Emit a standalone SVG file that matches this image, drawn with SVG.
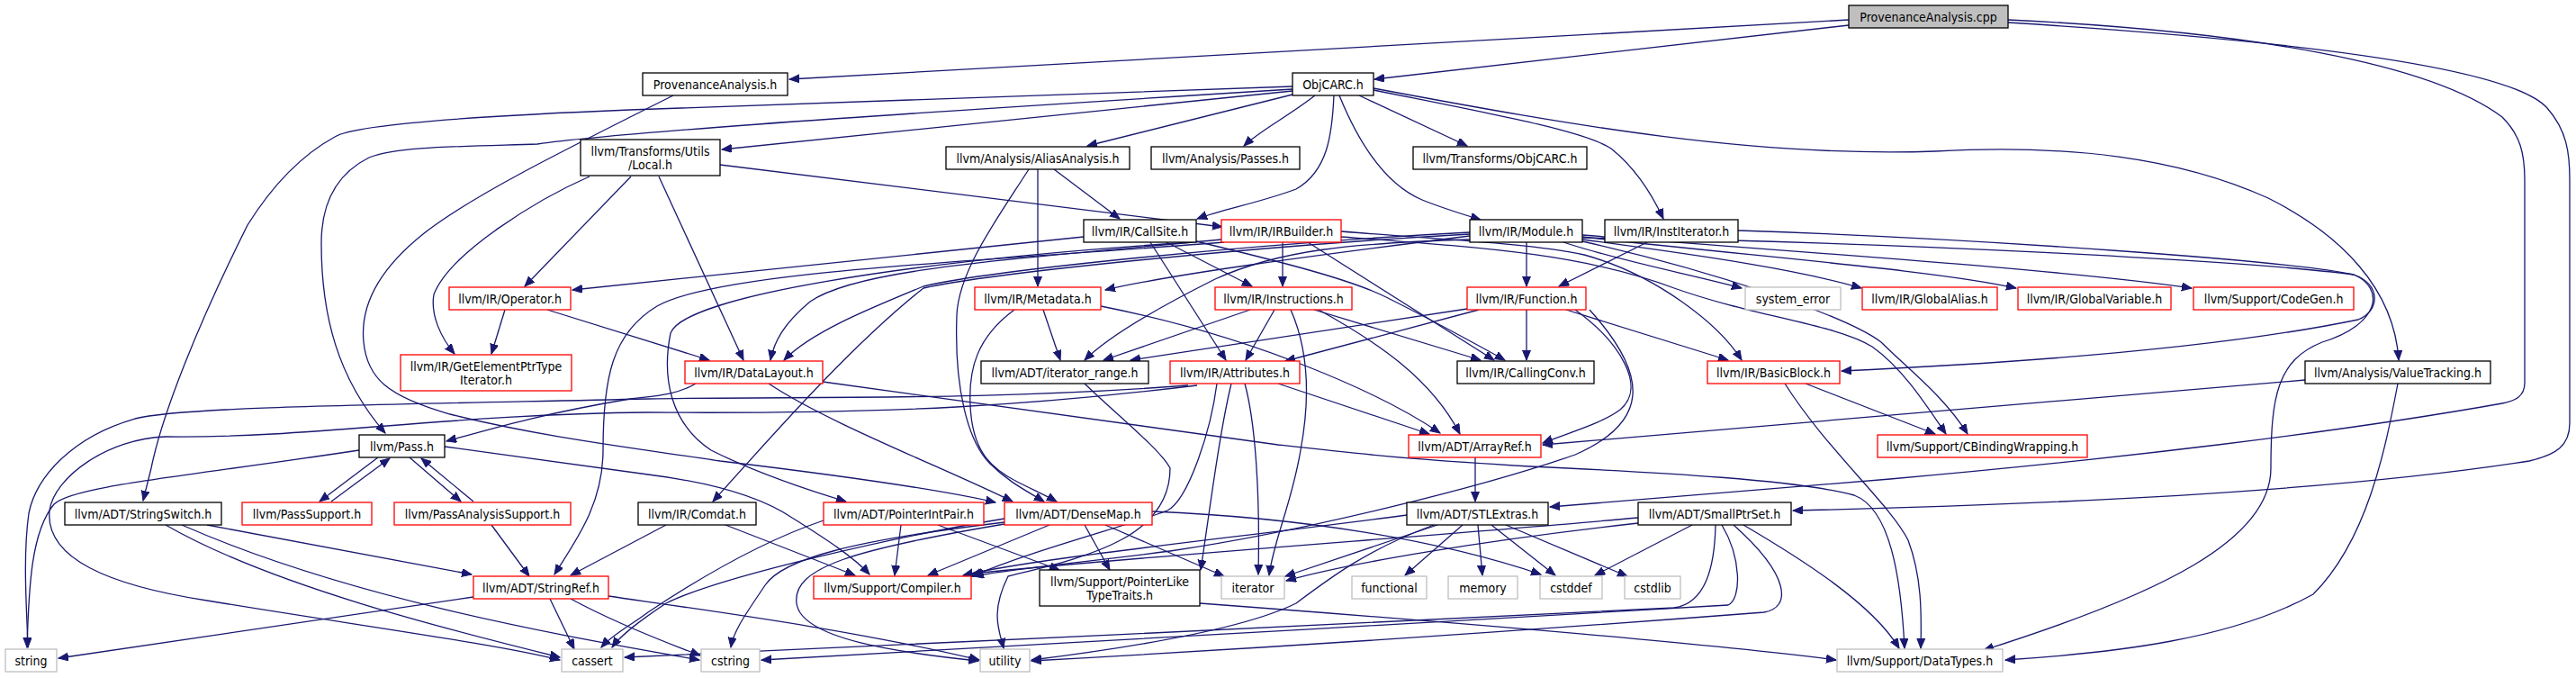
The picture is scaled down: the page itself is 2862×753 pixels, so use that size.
<svg xmlns="http://www.w3.org/2000/svg" width="2862" height="753" viewBox="0 0 2862 753">
<style>
rect{fill:#fff;stroke-width:1.3}
.n rect{stroke:#000}
.r rect{stroke:#f00}
.g rect{stroke:#bfbfbf}
.root rect{fill:#bfbfbf;stroke:#000}
text{font-family:"DejaVu Sans Condensed","DejaVu Sans",sans-serif;font-size:14px;text-anchor:middle;fill:#000}
#edges path{fill:none;stroke:#191970;stroke-width:1.3;marker-end:url(#a)}
</style>
<defs>
<marker id="a" markerWidth="12" markerHeight="10" refX="11" refY="4.5" orient="auto" markerUnits="userSpaceOnUse"><path d="M0,0 L11,4.5 L0,9 z" fill="#191970" stroke="#191970" stroke-width="1"/></marker>
</defs>
<rect x="0" y="0" width="2862" height="753" style="fill:#fff;stroke:none"/>
<g id="edges">
<path d="M2054,22 L877,88"/>
<path d="M2054,28 L1527,88"/>
<path d="M2231,22 C2500,35 2700,70 2780,130 C2800,150 2805,170 2805,200 L2805,425 C2805,440 2795,445 2780,448 C2600,480 2350,510 2100,532 L1722,563"/>
<path d="M2231,25 C2550,45 2790,75 2830,120 C2852,145 2855,170 2855,200 L2855,470 C2855,495 2840,505 2810,512 C2600,545 2300,560 1992,567"/>
<path d="M1436,96 L700,122 C500,130 390,140 372,152 C330,175 300,210 275,250 C220,360 180,460 168,520 L159,556"/>
<path d="M1436,99 C1100,120 700,145 597,160 C500,163 441,163 410,175 C370,195 357,230 357,270 C357,350 375,420 428,481"/>
<path d="M1436,101 L802,166"/>
<path d="M1436,105 L1208,162"/>
<path d="M1461,106 C1430,130 1400,145 1382,162"/>
<path d="M1482,106 C1480,150 1475,190 1440,210 C1400,225 1360,232 1330,243"/>
<path d="M1488,106 C1510,160 1540,205 1580,222 C1605,232 1625,238 1645,244"/>
<path d="M1510,106 L1630,162"/>
<path d="M1526,100 C1650,125 1760,145 1790,165 C1815,185 1835,215 1848,243"/>
<path d="M1526,98 C1750,140 1950,175 2150,168 C2300,160 2420,175 2520,220 C2600,260 2660,320 2665,400"/>
<path d="M748,106 C620,170 520,220 470,260 C420,300 400,340 404,380 C408,420 430,440 500,460 C600,485 700,497 800,512 C950,530 1050,545 1106,558"/>
<path d="M800,183 L1358,252"/>
<path d="M701,196 L583,318"/>
<path d="M655,196 C600,220 500,280 482,327 C478,350 490,375 505,393"/>
<path d="M732,196 L826,400"/>
<path d="M1171,188 L1244,243"/>
<path d="M1153,188 L1153,318"/>
<path d="M1143,188 C1110,240 1065,300 1063,350 C1060,430 1075,490 1100,515 C1120,535 1140,545 1160,557"/>
<path d="M1204,263 L636,322"/>
<path d="M1325,269 C1000,290 760,330 745,370 C735,420 745,470 790,500 C840,525 900,545 940,557"/>
<path d="M1296,269 L1391,318"/>
<path d="M1278,269 L1362,400"/>
<path d="M1329,268 C1420,290 1500,310 1540,330 C1600,360 1645,385 1672,400"/>
<path d="M1425,269 L1425,318"/>
<path d="M1453,269 L1660,400"/>
<path d="M1357,266 C1100,290 950,300 900,335 C870,360 860,380 856,400"/>
<path d="M1360,269 C1100,290 800,300 730,340 C680,370 670,420 670,500 C670,560 640,600 616,638"/>
<path d="M1490,257 C1600,266 1700,270 1760,283 C1840,305 1910,360 1935,400"/>
<path d="M1490,263 C1650,275 1760,282 1860,320 C1950,352 2040,360 2080,385 C2115,410 2140,450 2162,482"/>
<path d="M1633,262 C1450,285 1300,305 1228,322"/>
<path d="M1633,258 C1400,270 1100,300 1026,318 C960,345 900,370 871,400"/>
<path d="M1633,260 C1400,273 1100,303 1026,320 C950,380 870,470 792,557"/>
<path d="M1633,266 C1500,270 1420,278 1350,310 C1280,345 1230,375 1205,400"/>
<path d="M1696,269 L1696,318"/>
<path d="M1737,269 C1800,290 1880,305 1935,320"/>
<path d="M1758,266 C1900,285 2000,300 2068,320"/>
<path d="M1758,263 C1950,285 2150,300 2240,320"/>
<path d="M1758,261 C2000,280 2300,300 2435,320"/>
<path d="M1758,268 C1900,300 2050,350 2090,380 C2120,410 2160,440 2186,482"/>
<path d="M1758,264 C2100,268 2500,290 2615,305 C2650,320 2645,360 2580,380 C2530,400 2523,440 2523,520 C2523,600 2400,660 2204,722"/>
<path d="M1830,269 L1732,318"/>
<path d="M1931,256 C2200,265 2550,290 2615,305 C2645,315 2645,345 2620,355 C2450,390 2200,405 2046,412"/>
<path d="M561,344 L546,393"/>
<path d="M608,344 L788,400"/>
<path d="M1127,344 C1085,375 1076,410 1078,450 C1080,500 1100,520 1130,535 C1150,545 1165,552 1174,557"/>
<path d="M1159,344 L1178,400"/>
<path d="M1223,340 C1400,375 1540,440 1600,481"/>
<path d="M1416,344 L1384,400"/>
<path d="M1389,344 L1226,400"/>
<path d="M1460,344 L1645,400"/>
<path d="M1465,344 C1530,380 1590,420 1622,482"/>
<path d="M1434,344 C1450,380 1458,430 1445,500 C1435,560 1415,600 1410,639"/>
<path d="M1643,344 L1428,401"/>
<path d="M1630,343 L1256,400"/>
<path d="M1696,344 L1696,400"/>
<path d="M1740,344 L1920,400"/>
<path d="M1750,344 C1800,380 1830,430 1800,455 C1780,470 1745,480 1714,492"/>
<path d="M1766,344 C1835,420 1830,470 1750,505 C1650,540 1450,590 1300,612 C1200,625 1120,632 1082,640"/>
<path d="M773,426 C750,440 720,440 700,443 C600,460 550,475 496,490"/>
<path d="M854,426 C920,470 1050,520 1125,557"/>
<path d="M914,424 L1420,494 C1500,503 1561,510 1700,518 C1850,525 1997,533 2060,550 C2100,565 2112,640 2116,720"/>
<path d="M1420,426 L1588,482"/>
<path d="M1320,428 C1100,445 900,440 720,443 C400,450 200,452 150,465 C80,485 40,530 32,570 C25,620 30,680 31,719"/>
<path d="M1330,428 C1150,450 1000,460 720,458 C500,460 344,487 184,485 C120,487 60,530 55,567 C50,620 120,650 230,667 C400,695 550,715 622,733"/>
<path d="M1368,426 C1355,480 1345,560 1334,633"/>
<path d="M1352,426 C1345,480 1320,555 1297,567 C1250,585 1150,610 1080,640"/>
<path d="M1383,426 C1395,470 1400,550 1398,638"/>
<path d="M1983,426 C2030,500 2100,560 2120,600 C2135,640 2135,680 2134,720"/>
<path d="M2006,426 L2150,482"/>
<path d="M2561,422 C2200,455 1900,478 1714,494"/>
<path d="M2664,426 C2650,500 2630,600 2570,660 C2480,710 2350,725 2228,733"/>
<path d="M1639,508 L1639,557"/>
<path d="M399,500 C200,530 80,540 60,560 C35,590 32,650 30,719"/>
<path d="M494,496 L720,527 C800,537 850,555 880,575 C920,600 950,620 966,638"/>
<path d="M420,508 L355,557"/>
<path d="M368,557 L433,509"/>
<path d="M455,508 L512,557"/>
<path d="M526,557 L468,509"/>
<path d="M546,583 L588,640"/>
<path d="M230,583 L524,638"/>
<path d="M184,583 C300,650 500,700 622,730"/>
<path d="M202,583 C400,670 650,710 777,733"/>
<path d="M526,663 L65,731"/>
<path d="M611,665 L638,721"/>
<path d="M634,665 C680,690 730,710 778,728"/>
<path d="M676,662 C800,680 950,700 1088,733"/>
<path d="M740,583 L634,639"/>
<path d="M806,583 L950,639"/>
<path d="M1001,583 L994,639"/>
<path d="M1042,583 L1177,633"/>
<path d="M915,578 C850,600 780,640 720,680 C700,695 680,705 668,719"/>
<path d="M1166,583 L1031,639"/>
<path d="M1205,583 L1233,633"/>
<path d="M1228,583 L1360,640"/>
<path d="M1280,568 C1450,575 1600,600 1712,638"/>
<path d="M1116,580 C950,600 870,620 850,650 C830,680 815,700 812,719"/>
<path d="M1116,582 C950,610 880,630 885,670 C890,710 1000,725 1087,734"/>
<path d="M1116,576 C1000,595 800,640 740,670 C710,690 690,705 680,719"/>
<path d="M1563,572 C1350,600 1150,620 1070,639"/>
<path d="M1597,583 L1428,640"/>
<path d="M1625,583 L1561,639"/>
<path d="M1642,583 L1647,639"/>
<path d="M1657,583 L1728,639"/>
<path d="M1673,583 L1808,640"/>
<path d="M1593,583 C1520,610 1480,640 1440,670 C1380,700 1250,720 1146,733"/>
<path d="M1820,575 C1600,595 1300,615 1080,637"/>
<path d="M1820,581 C1650,600 1500,625 1429,645"/>
<path d="M1880,583 L1772,639"/>
<path d="M1906,583 C1905,630 1895,670 1860,675 C1600,690 1000,715 694,730"/>
<path d="M1913,583 C1935,620 1935,665 1920,672 C1600,690 1100,720 846,733"/>
<path d="M1926,583 C1990,640 1990,675 1960,680 C1700,700 1400,720 1146,734"/>
<path d="M1937,583 C2000,620 2080,670 2110,720"/>
<path d="M1333,670 C1600,690 1900,715 2040,733"/>
<path d="M1205,426 C1240,460 1290,500 1300,520 C1300,600 1200,620 1120,640 C1100,680 1110,700 1115,720"/>
</g>
<g id="n_cpp" class="root"><rect x="2054" y="6" width="177" height="25"/><text x="2142.5" y="23.5">ProvenanceAnalysis.cpp</text></g>
<g id="n_pah" class="n"><rect x="714" y="81" width="161" height="25"/><text x="794.5" y="98.5">ProvenanceAnalysis.h</text></g>
<g id="n_objcarc" class="n"><rect x="1436" y="81" width="90" height="25"/><text x="1481" y="98.5">ObjCARC.h</text></g>
<g id="n_local" class="n"><rect x="645" y="155" width="155" height="40"/><text x="722.5" y="172.5">llvm/Transforms/Utils</text><text x="722.5" y="187.5">/Local.h</text></g>
<g id="n_aa" class="n"><rect x="1051" y="163" width="204" height="25"/><text x="1153" y="180.5">llvm/Analysis/AliasAnalysis.h</text></g>
<g id="n_passes" class="n"><rect x="1279" y="163" width="165" height="25"/><text x="1361.5" y="180.5">llvm/Analysis/Passes.h</text></g>
<g id="n_tobjcarc" class="n"><rect x="1570" y="163" width="193" height="25"/><text x="1666.5" y="180.5">llvm/Transforms/ObjCARC.h</text></g>
<g id="n_callsite" class="n"><rect x="1204" y="244" width="125" height="25"/><text x="1266.5" y="261.5">llvm/IR/CallSite.h</text></g>
<g id="n_irbuilder" class="r"><rect x="1357" y="244" width="133" height="25"/><text x="1423.5" y="261.5">llvm/IR/IRBuilder.h</text></g>
<g id="n_module" class="n"><rect x="1633" y="244" width="125" height="25"/><text x="1695.5" y="261.5">llvm/IR/Module.h</text></g>
<g id="n_institer" class="n"><rect x="1783" y="244" width="148" height="25"/><text x="1857" y="261.5">llvm/IR/InstIterator.h</text></g>
<g id="n_operator" class="r"><rect x="499" y="319" width="135" height="25"/><text x="566.5" y="336.5">llvm/IR/Operator.h</text></g>
<g id="n_metadata" class="r"><rect x="1083" y="319" width="140" height="25"/><text x="1153" y="336.5">llvm/IR/Metadata.h</text></g>
<g id="n_instructions" class="r"><rect x="1350" y="319" width="152" height="25"/><text x="1426" y="336.5">llvm/IR/Instructions.h</text></g>
<g id="n_function" class="r"><rect x="1630" y="319" width="132" height="25"/><text x="1696" y="336.5">llvm/IR/Function.h</text></g>
<g id="n_syserr" class="g"><rect x="1939" y="319" width="106" height="25"/><text x="1992" y="336.5">system_error</text></g>
<g id="n_galias" class="r"><rect x="2069" y="319" width="150" height="25"/><text x="2144" y="336.5">llvm/IR/GlobalAlias.h</text></g>
<g id="n_gvar" class="r"><rect x="2242" y="319" width="170" height="25"/><text x="2327" y="336.5">llvm/IR/GlobalVariable.h</text></g>
<g id="n_codegen" class="r"><rect x="2437" y="319" width="178" height="25"/><text x="2526" y="336.5">llvm/Support/CodeGen.h</text></g>
<g id="n_gepti" class="r"><rect x="445" y="394" width="190" height="40"/><text x="540" y="411.5">llvm/IR/GetElementPtrType</text><text x="540" y="426.5">Iterator.h</text></g>
<g id="n_datalayout" class="r"><rect x="761" y="401" width="153" height="25"/><text x="837.5" y="418.5">llvm/IR/DataLayout.h</text></g>
<g id="n_iterrange" class="n"><rect x="1090" y="401" width="186" height="25"/><text x="1183" y="418.5">llvm/ADT/iterator_range.h</text></g>
<g id="n_attributes" class="r"><rect x="1300" y="401" width="144" height="25"/><text x="1372" y="418.5">llvm/IR/Attributes.h</text></g>
<g id="n_callingconv" class="n"><rect x="1619" y="401" width="152" height="25"/><text x="1695" y="418.5">llvm/IR/CallingConv.h</text></g>
<g id="n_basicblock" class="r"><rect x="1897" y="401" width="147" height="25"/><text x="1970.5" y="418.5">llvm/IR/BasicBlock.h</text></g>
<g id="n_valuetracking" class="n"><rect x="2561" y="401" width="206" height="25"/><text x="2664" y="418.5">llvm/Analysis/ValueTracking.h</text></g>
<g id="n_pass" class="n"><rect x="399" y="483" width="95" height="25"/><text x="446.5" y="500.5">llvm/Pass.h</text></g>
<g id="n_arrayref" class="r"><rect x="1565" y="483" width="147" height="25"/><text x="1638.5" y="500.5">llvm/ADT/ArrayRef.h</text></g>
<g id="n_cbw" class="r"><rect x="2086" y="483" width="233" height="25"/><text x="2202.5" y="500.5">llvm/Support/CBindingWrapping.h</text></g>
<g id="n_stringswitch" class="n"><rect x="72" y="558" width="174" height="25"/><text x="159" y="575.5">llvm/ADT/StringSwitch.h</text></g>
<g id="n_passsupport" class="r"><rect x="269" y="558" width="144" height="25"/><text x="341" y="575.5">llvm/PassSupport.h</text></g>
<g id="n_pas" class="r"><rect x="438" y="558" width="196" height="25"/><text x="536" y="575.5">llvm/PassAnalysisSupport.h</text></g>
<g id="n_comdat" class="n"><rect x="709" y="558" width="131" height="25"/><text x="774.5" y="575.5">llvm/IR/Comdat.h</text></g>
<g id="n_pip" class="r"><rect x="915" y="558" width="178" height="25"/><text x="1004" y="575.5">llvm/ADT/PointerIntPair.h</text></g>
<g id="n_densemap" class="r"><rect x="1116" y="558" width="164" height="25"/><text x="1198" y="575.5">llvm/ADT/DenseMap.h</text></g>
<g id="n_stlextras" class="n"><rect x="1563" y="558" width="157" height="25"/><text x="1641.5" y="575.5">llvm/ADT/STLExtras.h</text></g>
<g id="n_smallptrset" class="n"><rect x="1820" y="558" width="170" height="25"/><text x="1905" y="575.5">llvm/ADT/SmallPtrSet.h</text></g>
<g id="n_stringref" class="r"><rect x="526" y="640" width="150" height="25"/><text x="601" y="657.5">llvm/ADT/StringRef.h</text></g>
<g id="n_compiler" class="r"><rect x="904" y="640" width="175" height="25"/><text x="991.5" y="657.5">llvm/Support/Compiler.h</text></g>
<g id="n_pltt" class="n"><rect x="1155" y="633" width="178" height="40"/><text x="1244" y="650.5">llvm/Support/PointerLike</text><text x="1244" y="665.5">TypeTraits.h</text></g>
<g id="n_iterator" class="g"><rect x="1357" y="640" width="70" height="25"/><text x="1392" y="657.5">iterator</text></g>
<g id="n_functional" class="g"><rect x="1502" y="640" width="83" height="25"/><text x="1543.5" y="657.5">functional</text></g>
<g id="n_memory" class="g"><rect x="1609" y="640" width="77" height="25"/><text x="1647.5" y="657.5">memory</text></g>
<g id="n_cstddef" class="g"><rect x="1711" y="640" width="69" height="25"/><text x="1745.5" y="657.5">cstddef</text></g>
<g id="n_cstdlib" class="g"><rect x="1805" y="640" width="62" height="25"/><text x="1836" y="657.5">cstdlib</text></g>
<g id="n_string" class="g"><rect x="6" y="721" width="57" height="25"/><text x="34.5" y="738.5">string</text></g>
<g id="n_cassert" class="g"><rect x="624" y="721" width="68" height="25"/><text x="658" y="738.5">cassert</text></g>
<g id="n_cstring" class="g"><rect x="779" y="721" width="65" height="25"/><text x="811.5" y="738.5">cstring</text></g>
<g id="n_utility" class="g"><rect x="1089" y="721" width="55" height="25"/><text x="1116.5" y="738.5">utility</text></g>
<g id="n_datatypes" class="g"><rect x="2041" y="721" width="184" height="25"/><text x="2133" y="738.5">llvm/Support/DataTypes.h</text></g>
</svg>
